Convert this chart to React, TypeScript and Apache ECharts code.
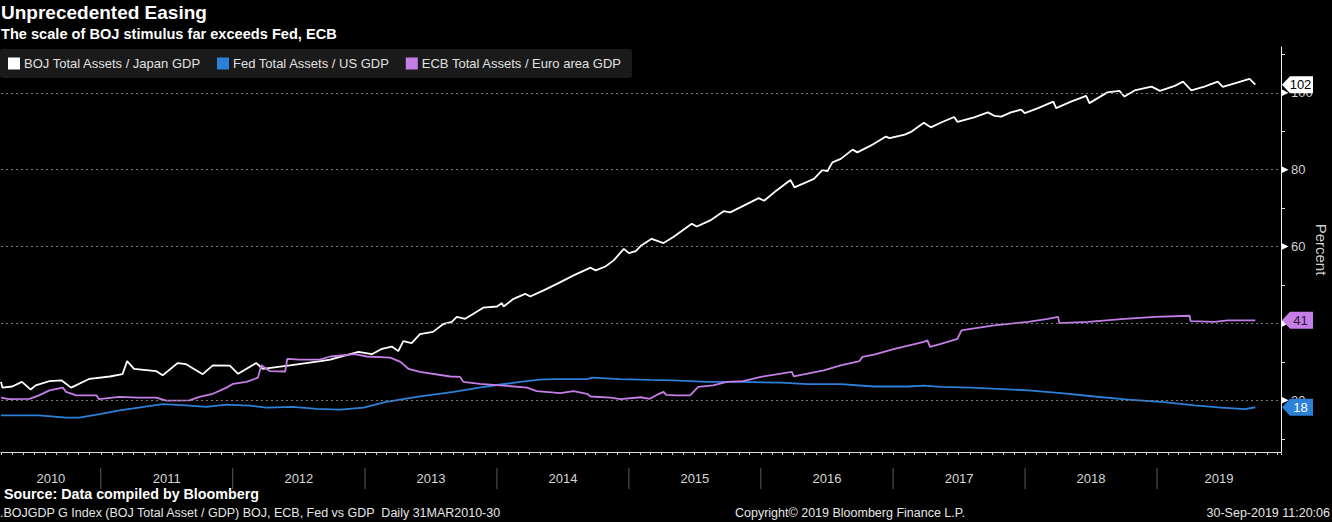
import React, { useEffect, useRef } from "react";
import * as echarts from "echarts";

const FONT = "'Liberation Sans', Arial, sans-serif";

const seriesNames = [
  "BOJ Total Assets / Japan GDP",
  "Fed Total Assets / US GDP",
  "ECB Total Assets / Euro area GDP",
];
const seriesColors = ["#ffffff", "#2b80d8", "#c47ee6"];
const tagTextColors = ["#000000", "#ffffff", "#2a1236"];

const bojData: [string, number][] = [
  ["2010-03-31", 24.8], ["2010-04-04", 23.3], ["2010-05-01", 23.6], ["2010-05-28", 24.8],
  ["2010-06-21", 22.8], ["2010-07-05", 23.9], ["2010-08-12", 25.0], ["2010-09-14", 25.2],
  ["2010-10-11", 23.3], ["2010-12-01", 25.6], ["2011-01-26", 26.2], ["2011-03-02", 26.8],
  ["2011-03-15", 30.2], ["2011-04-03", 28.2], ["2011-06-03", 27.6], ["2011-06-21", 26.5],
  ["2011-08-02", 29.7], ["2011-08-25", 29.4], ["2011-10-10", 26.8], ["2011-11-07", 29.1],
  ["2011-12-24", 29.0], ["2012-01-16", 26.9], ["2012-03-06", 29.7], ["2012-03-24", 28.2],
  ["2012-06-07", 29.1], ["2012-08-31", 30.2], ["2012-09-27", 30.6], ["2012-10-24", 31.3],
  ["2012-12-14", 32.6], ["2013-01-20", 32.0], ["2013-02-17", 33.4], ["2013-03-16", 34.0],
  ["2013-04-03", 32.8], ["2013-04-17", 35.4], ["2013-05-10", 34.9], ["2013-06-02", 37.2],
  ["2013-07-08", 37.8], ["2013-08-05", 39.8], ["2013-08-29", 40.4], ["2013-09-12", 41.7],
  ["2013-10-05", 41.2], ["2013-10-28", 42.5], ["2013-11-24", 44.1], ["2014-01-01", 44.4],
  ["2014-01-15", 45.3], ["2014-01-19", 44.4], ["2014-02-16", 46.4], ["2014-03-20", 47.7],
  ["2014-04-03", 47.0], ["2014-05-10", 48.6], ["2014-06-16", 50.3], ["2014-08-01", 52.5],
  ["2014-09-17", 54.5], ["2014-10-01", 53.8], ["2014-10-28", 54.8], ["2014-11-20", 56.4],
  ["2014-12-18", 59.4], ["2015-01-01", 58.3], ["2015-01-20", 58.8], ["2015-02-03", 60.2],
  ["2015-03-05", 62.0], ["2015-04-07", 60.9], ["2015-05-04", 62.5], ["2015-06-24", 65.9],
  ["2015-07-08", 65.2], ["2015-08-14", 66.8], ["2015-09-20", 69.2], ["2015-10-08", 68.9],
  ["2015-11-05", 70.2], ["2015-12-26", 72.6], ["2016-01-10", 71.9], ["2016-02-07", 74.1],
  ["2016-03-23", 77.3], ["2016-04-03", 75.4], ["2016-05-27", 77.6], ["2016-06-19", 79.9],
  ["2016-07-03", 79.6], ["2016-07-17", 81.9], ["2016-08-09", 82.8], ["2016-09-11", 85.2],
  ["2016-09-24", 84.5], ["2016-11-01", 86.3], ["2016-12-12", 88.6], ["2016-12-22", 88.2],
  ["2017-02-02", 89.1], ["2017-02-21", 89.9], ["2017-03-27", 92.2], ["2017-04-15", 91.0],
  ["2017-05-17", 92.4], ["2017-06-19", 93.7], ["2017-06-28", 92.4], ["2017-08-13", 93.6],
  ["2017-09-20", 94.9], ["2017-10-08", 94.0], ["2017-10-27", 93.8], ["2017-11-23", 94.9],
  ["2017-12-21", 95.6], ["2017-12-31", 94.7], ["2018-02-06", 96.0], ["2018-03-20", 97.7],
  ["2018-03-28", 96.0], ["2018-05-08", 97.7], ["2018-06-19", 99.2], ["2018-06-28", 97.3],
  ["2018-07-21", 98.6], ["2018-08-17", 100.1], ["2018-09-19", 100.5], ["2018-10-03", 99.0],
  ["2018-10-31", 100.6], ["2018-12-17", 101.6], ["2019-01-09", 100.5], ["2019-02-19", 101.8],
  ["2019-03-14", 102.9], ["2019-04-06", 100.6], ["2019-05-12", 101.6], ["2019-06-18", 102.9],
  ["2019-07-02", 101.5], ["2019-08-13", 102.7], ["2019-09-14", 103.6], ["2019-09-30", 102.1],
];

const fedData: [string, number][] = [
  ["2010-03-31", 16.1], ["2010-05-25", 16.1], ["2010-07-14", 16.1], ["2010-09-27", 15.5],
  ["2010-11-03", 15.5], ["2010-12-29", 16.4], ["2011-02-22", 17.4], ["2011-04-16", 18.1],
  ["2011-06-21", 19.0], ["2011-08-25", 18.7], ["2011-10-20", 18.3], ["2011-12-15", 18.9],
  ["2012-02-17", 18.6], ["2012-04-03", 18.1], ["2012-06-16", 18.3], ["2012-08-20", 17.8],
  ["2012-10-24", 17.6], ["2012-12-28", 18.1], ["2013-03-01", 19.6], ["2013-06-02", 21.0],
  ["2013-09-03", 22.2], ["2013-12-04", 23.6], ["2014-03-06", 24.8], ["2014-04-30", 25.4],
  ["2014-06-06", 25.5], ["2014-09-07", 25.5], ["2014-09-21", 25.9], ["2014-12-09", 25.5],
  ["2015-02-28", 25.3], ["2015-05-04", 25.2], ["2015-08-05", 24.8], ["2015-11-05", 24.8],
  ["2016-02-25", 24.6], ["2016-05-09", 24.2], ["2016-08-09", 24.2], ["2016-11-09", 23.6],
  ["2017-02-10", 23.6], ["2017-03-27", 23.8], ["2017-05-13", 23.5], ["2017-08-04", 23.3],
  ["2018-01-09", 22.6], ["2018-04-11", 21.9], ["2018-07-12", 21.0], ["2018-10-13", 20.2],
  ["2019-01-13", 19.6], ["2019-04-15", 18.7], ["2019-06-28", 18.1], ["2019-09-01", 17.7],
  ["2019-09-30", 18.2],
];

const ecbData: [string, number][] = [
  ["2010-03-31", 20.7], ["2010-04-22", 20.3], ["2010-06-18", 20.4], ["2010-07-14", 21.3],
  ["2010-08-12", 22.6], ["2010-09-18", 23.3], ["2010-09-27", 22.2], ["2010-10-25", 21.3],
  ["2010-12-20", 21.3], ["2010-12-27", 20.3], ["2011-02-22", 20.9], ["2011-04-16", 20.7],
  ["2011-06-03", 20.7], ["2011-07-01", 19.9], ["2011-09-03", 20.0], ["2011-10-01", 20.9],
  ["2011-11-07", 21.7], ["2011-12-15", 23.3], ["2012-01-02", 24.3], ["2012-02-08", 24.8],
  ["2012-03-11", 25.9], ["2012-03-20", 29.1], ["2012-04-12", 27.6], ["2012-05-25", 27.5],
  ["2012-05-31", 30.8], ["2012-07-04", 30.6], ["2012-08-29", 30.6], ["2012-09-27", 31.4],
  ["2012-12-04", 32.0], ["2013-01-06", 31.4], ["2013-03-12", 31.1], ["2013-04-09", 30.0],
  ["2013-05-01", 28.2], ["2013-06-02", 27.4], ["2013-08-25", 26.2], ["2013-09-21", 26.1],
  ["2013-09-30", 24.8], ["2013-11-15", 24.3], ["2014-01-10", 23.9], ["2014-03-25", 23.3],
  ["2014-04-21", 22.4], ["2014-06-25", 21.9], ["2014-08-01", 22.4], ["2014-09-07", 21.7],
  ["2014-09-17", 21.0], ["2014-11-11", 20.7], ["2014-12-09", 20.3], ["2015-02-03", 20.8],
  ["2015-02-28", 20.4], ["2015-03-23", 21.6], ["2015-04-07", 22.2], ["2015-04-14", 21.4],
  ["2015-05-13", 21.3], ["2015-06-19", 21.3], ["2015-07-12", 23.5], ["2015-08-22", 23.9],
  ["2015-09-29", 24.8], ["2015-11-13", 25.0], ["2016-01-01", 26.1], ["2016-03-27", 27.4],
  ["2016-04-01", 26.2], ["2016-06-23", 27.8], ["2016-08-09", 29.1], ["2016-09-30", 30.2],
  ["2016-10-08", 31.3], ["2016-11-09", 31.9], ["2017-01-05", 33.4], ["2017-03-27", 35.2],
  ["2017-04-06", 35.6], ["2017-04-13", 33.9], ["2017-05-13", 34.7], ["2017-06-28", 36.0],
  ["2017-07-09", 38.2], ["2017-08-04", 38.6], ["2017-10-08", 39.5], ["2018-01-09", 40.4],
  ["2018-03-05", 41.2], ["2018-04-02", 41.7], ["2018-04-06", 40.1], ["2018-06-24", 40.4],
  ["2018-09-24", 41.1], ["2018-12-26", 41.7], ["2019-04-01", 42.0], ["2019-04-04", 40.6],
  ["2019-06-09", 40.4], ["2019-07-16", 40.8], ["2019-09-30", 40.8],
];

const allData = [bojData, fedData, ecbData];

const yearLabels = ["2010", "2011", "2012", "2013", "2014", "2015", "2016", "2017", "2018", "2019"];
const gridValues = [20, 40, 60, 80, 100];
const xMinDate = "2010-03-31";
const xMaxDate = "2019-12-10";
const yMin = 6.56;
const yMax = 111.9;

const titleText = "Unprecedented Easing";
const subtitleText = "The scale of BOJ stimulus far exceeds Fed, ECB";
const sourceText = "Source: Data compiled by Bloomberg";
const tickerText = ".BOJGDP G Index (BOJ Total Asset / GDP) BOJ, ECB, Fed vs GDP  Daily 31MAR2010-30";
const copyrightText = "Copyright\u00a9 2019 Bloomberg Finance L.P.";
const stampText = "30-Sep-2019 11:20:06";

const ts = (s: string) => new Date(s + "T00:00:00").getTime();

export default function App() {
  const ref = useRef<HTMLDivElement>(null);

  useEffect(() => {
    document.body.style.margin = "0";
    document.body.style.background = "#000";
    if (!ref.current) return;
    const chart = echarts.init(ref.current, undefined, { renderer: "svg" });
    const minTs = ts(xMinDate);
    const maxTs = ts(xMaxDate);

    const lineSeries = seriesNames.map((name, i) => {
      const data = allData[i];
      const last = data[data.length - 1];
      const markPointData: any[] = [
        {
          coord: [maxTs, last[1]],
          value: last[1],
          symbol: "path://M0,8.5 L8,0 L31,0 L31,17 L8,17 Z",
          symbolSize: [31, 17],
          symbolOffset: [16.5, 0],
          itemStyle: { color: seriesColors[i] },
          label: {
            show: true,
            position: "inside",
            offset: [3, 0],
            formatter: (p: any) => String(Math.round(p.value)),
            color: tagTextColors[i],
            fontSize: 13,
            fontFamily: FONT,
          },
        },
      ];
      if (i === 0) {
        gridValues.forEach((v) => {
          markPointData.push({
            coord: [maxTs, v],
            value: v,
            symbol: "triangle",
            symbolRotate: -90,
            symbolSize: [7, 7],
            symbolOffset: [4, 0],
            itemStyle: { color: "#ffffff" },
            label: { show: false },
          });
        });
      }
      const s: any = {
        name,
        type: "line",
        data: data.map((d) => [ts(d[0]), d[1]]),
        showSymbol: false,
        symbol: "none",
        color: seriesColors[i],
        lineStyle: { color: seriesColors[i], width: 1.8 },
        z: 3,
        markPoint: {
          silent: true,
          data: markPointData,
          z: 6,
        },
      };
      if (i === 0) {
        s.markLine = {
          silent: true,
          symbol: ["none", "none"],
          label: { show: false },
          lineStyle: { color: "#7a7a7a", type: [2, 3], width: 1 },
          emphasis: { disabled: true },
          data: gridValues.map((v) => ({ yAxis: v })),
        };
      }
      return s;
    });

    const yearSeries: any = {
      type: "custom",
      coordinateSystem: "cartesian2d",
      clip: false,
      silent: true,
      z: 1,
      data: yearLabels.map((y) => [ts(y + "-07-01"), yMin]),
      renderItem: (params: any, api: any) => {
        const yr = Number(yearLabels[params.dataIndex]);
        const yStart = ts(yr + "-01-01");
        const yEnd = ts(yr + 1 + "-01-01");
        const start = Math.max(yStart, minTs);
        const end = Math.min(yEnd, maxTs);
        const p0 = api.coord([start, yMin]);
        const p1 = api.coord([end, yMin]);
        const children: any[] = [
          {
            type: "text",
            x: (p0[0] + p1[0]) / 2,
            y: p0[1] + 26,
            style: {
              text: String(yr),
              fill: "#d6d6d6",
              fontSize: 13,
              fontFamily: FONT,
              align: "center",
              verticalAlign: "middle",
            },
          },
        ];
        if (yStart > minTs) {
          children.push({
            type: "line",
            shape: { x1: p0[0], y1: p0[1] + 16, x2: p0[0], y2: p0[1] + 37 },
            style: { stroke: "#5a5a5a", lineWidth: 1 },
          });
        }
        return { type: "group", children };
      },
    };

    const option: any = {
      animation: false,
      backgroundColor: "#000000",
      title: {
        text: titleText,
        subtext: subtitleText,
        left: 1,
        top: 3,
        padding: 0,
        itemGap: 4,
        textStyle: { color: "#ffffff", fontSize: 19, fontWeight: "bold", fontFamily: FONT },
        subtextStyle: { color: "#ffffff", fontSize: 14.6, fontWeight: "bold", fontFamily: FONT },
      },
      legend: {
        data: seriesNames,
        left: 0,
        top: 49,
        padding: [8, 10, 8, 8],
        itemGap: 16,
        itemWidth: 12,
        itemHeight: 12,
        icon: "rect",
        backgroundColor: "#1a1a1a",
        borderRadius: 3,
        selectedMode: false,
        textStyle: { color: "#e0e0e0", fontSize: 13, fontFamily: FONT, padding: [0, 0, 0, -1] },
      },
      grid: { left: 1, right: 51, top: 47, bottom: 70, outerBoundsMode: "none" },
      xAxis: {
        type: "time",
        min: minTs,
        max: maxTs,
        minInterval: 28 * 86400000,
        maxInterval: 31 * 86400000,
        axisLine: { show: true, lineStyle: { color: "#dcdcdc", width: 1 } },
        axisTick: { show: true, length: 3, lineStyle: { color: "#cfcfcf" } },
        axisLabel: { show: false },
        splitLine: { show: false },
      },
      yAxis: {
        type: "value",
        position: "right",
        min: yMin,
        max: yMax,
        splitNumber: 10,
        name: "Percent",
        nameLocation: "middle",
        nameRotate: -90,
        nameGap: 33,
        nameMoveOverlap: false,
        nameTextStyle: { color: "#cfcfcf", fontSize: 15, fontFamily: FONT },
        axisLine: { show: true, lineStyle: { color: "#f0f0f0", width: 1 } },
        axisTick: { show: true, length: 4, lineStyle: { color: "#e0e0e0" } },
        axisLabel: {
          color: "#d0d0d0",
          fontSize: 13,
          fontFamily: FONT,
          margin: 10,
          showMinLabel: false,
          showMaxLabel: false,
          formatter: (v: number) => (Math.abs(v % 20) < 1e-6 && v > 0 ? String(v) : ""),
        },
        splitLine: { show: false },
      },
      series: [...lineSeries, yearSeries],
      graphic: [
        {
          type: "text",
          left: 4,
          top: 487,
          style: { text: sourceText, fill: "#ffffff", fontSize: 14.3, fontWeight: "bold", fontFamily: FONT },
        },
        {
          type: "text",
          left: 0,
          top: 506,
          style: { text: tickerText, fill: "#e6e6e6", fontSize: 12.5, fontFamily: FONT },
        },
        {
          type: "text",
          left: 735,
          top: 506,
          style: { text: copyrightText, fill: "#e6e6e6", fontSize: 12.5, fontFamily: FONT },
        },
        {
          type: "text",
          right: 2,
          top: 506,
          style: { text: stampText, fill: "#e6e6e6", fontSize: 12.5, fontFamily: FONT },
        },
      ],
    };

    chart.setOption(option);
    return () => chart.dispose();
  }, []);

  return <div ref={ref} style={{ width: 1332, height: 522, background: "#000" }} />;
}
